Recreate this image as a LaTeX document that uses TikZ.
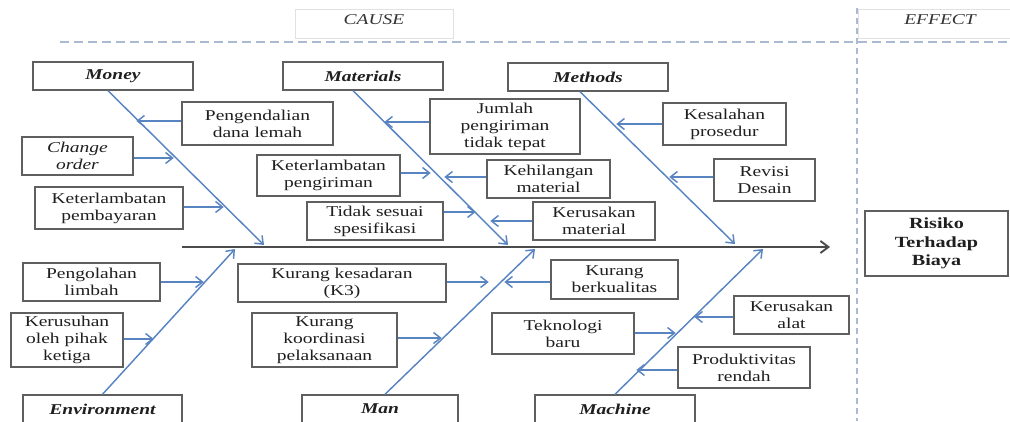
\documentclass[tikz,border=0pt]{standalone}
\usepackage{fontspec}
\setmainfont{Liberation Serif}[FakeStretch=1.3]
\usetikzlibrary{arrows.meta}
\definecolor{bonec}{RGB}{88,132,194}
\definecolor{boxc}{RGB}{95,95,95}
\definecolor{dashc}{RGB}{170,186,210}
\definecolor{spinec}{RGB}{75,75,75}
\definecolor{headc}{RGB}{225,225,225}
\begin{document}
\begin{tikzpicture}[x=1pt,y=-1pt,
  cbox/.style={draw=boxc,line width=1.4pt,inner sep=0pt,align=center,text=black!88,font=\fontsize{15}{17}\selectfont},
  cat/.style={cbox,font=\fontsize{15}{17}\selectfont\bfseries\itshape},
  hdr/.style={font=\fontsize{15}{17}\selectfont\itshape,text=black!80},
  bone/.style={draw=bonec,line width=1.45pt,-{Straight Barb[length=7pt,width=11pt]}},
  arr/.style={bone},
  spine/.style={draw=spinec,line width=1.9pt,-{Straight Barb[length=8pt,width=12pt]}},
  dashline/.style={draw=dashc,line width=1.7pt,dash pattern=on 9pt off 5pt}]
\useasboundingbox[fill=white] (0,0) rectangle (1010,421);
\clip (0,0) rectangle (1010,421);

% headers
\node[draw=headc,line width=0.8pt,minimum width=158,minimum height=29,inner sep=0pt] (cause) at (374,23.5) {};
\node[hdr] (causet) at (374,20) {CAUSE};
\node[draw=headc,line width=0.8pt,minimum width=160,minimum height=29,inner sep=0pt] (effect) at (938,23.5) {};
\node[hdr] (effectt) at (940,20) {EFFECT};
\coordinate (h0) at (60,42);
\coordinate (h1) at (1010,42);
\draw[dashline] (h0) -- (h1);
\coordinate (v0) at (857,8);
\coordinate (v1) at (857,421);
\draw[dashc,line width=1.5pt,dash pattern=on 6pt off 4pt] (v0) -- (v1);

% effect
\node[cbox,minimum width=143,minimum height=65,font=\fontsize{15.5}{18.5}\selectfont\bfseries] (risk) at (936.5,243.5) {Risiko\\Terhadap\\Biaya};

% spine
\coordinate (sp0) at (182,247);
\coordinate (sp1) at (830,247);
\draw[spine] (sp0) -- (sp1);

% categories
\node[cat,minimum width=160,minimum height=28] (money) at (113,76) {Money};
\node[cat,minimum width=160,minimum height=28] (mater) at (363,76) {Materials};
\node[cat,minimum width=160,minimum height=28] (meth) at (588,77) {Methods};
\node[cat,minimum width=159,minimum height=28] (env) at (102.5,409) {Environment};
\node[cat,minimum width=156,minimum height=28] (man) at (380,409) {Man};
\node[cat,minimum width=160,minimum height=28] (mach) at (615,409) {Machine};

% bones
\coordinate (tmoney) at (264,245);
\coordinate (tmater) at (508,245);
\coordinate (tmeth) at (735,244);
\coordinate (tenv) at (235,249);
\coordinate (tman) at (535,249);
\coordinate (tmach) at (763,249);
\draw[bone] ([xshift=-5pt]money.south) -- (tmoney);
\draw[bone] ([xshift=-10pt]mater.south) -- (tmater);
\draw[bone] ([xshift=-8pt]meth.south) -- (tmeth);
\draw[bone] (env.north) -- (tenv);
\draw[bone] ([xshift=5pt]man.north) -- (tman);
\draw[bone] (mach.north) -- (tmach);

% Money causes
\node[cbox,minimum width=151,minimum height=43] (pd) at (257.5,123.5) {Pengendalian\\dana lemah};
\node[cbox,minimum width=111,minimum height=38,font=\fontsize{15}{17}\selectfont\itshape] (co) at (77.5,156) {Change\\order};
\node[cbox,minimum width=148,minimum height=42] (kp) at (109,208) {Keterlambatan\\pembayaran};
\draw[arr] ([yshift=2.5pt]pd.west) -- ++(-45,0);
\draw[arr] ([yshift=-2pt]co.east) -- ++(40,0);
\draw[arr] ([yshift=1pt]kp.east) -- ++(40,0);

% Materials causes
\node[cbox,minimum width=150,minimum height=55] (jm) at (505,126.5) {Jumlah\\pengiriman\\tidak tepat};
\node[cbox,minimum width=143,minimum height=41] (kpg) at (328.5,175.5) {Keterlambatan\\pengiriman};
\node[cbox,minimum width=123,minimum height=38] (kh) at (548.5,179) {Kehilangan\\material};
\node[cbox,minimum width=136,minimum height=38] (ts) at (375,221) {Tidak sesuai\\spesifikasi};
\node[cbox,minimum width=122,minimum height=38] (km) at (594,221) {Kerusakan\\material};
\draw[arr] ([yshift=4.5pt]jm.west) -- ++(-45,0);
\draw[arr] ([yshift=2.5pt]kpg.east) -- ++(30,0);
\draw[arr] ([yshift=2pt]kh.west) -- ++(-42,0);
\draw[arr] ([yshift=9pt]ts.east) -- ++(32,0);
\draw[arr] (km.west) -- ++(-42,0);

% Methods causes
\node[cbox,minimum width=123,minimum height=42] (ks) at (724.5,124) {Kesalahan\\prosedur};
\node[cbox,minimum width=101,minimum height=42] (rd) at (764.5,180) {Revisi\\Desain};
\draw[arr] (ks.west) -- ++(-46,0);
\draw[arr] ([yshift=3pt]rd.west) -- ++(-44,0);

% Environment causes
\node[cbox,minimum width=137,minimum height=38] (pl) at (91.5,282) {Pengolahan\\limbah};
\node[cbox,minimum width=112,minimum height=54] (kr) at (67,340) {Kerusuhan\\oleh pihak\\ketiga};
\draw[arr] (pl.east) -- ++(43,0);
\draw[arr] ([yshift=1pt]kr.east) -- ++(30,0);

% Man causes
\node[cbox,minimum width=208,minimum height=38] (kk) at (342,283) {Kurang kesadaran\\(K3)};
\node[cbox,minimum width=145,minimum height=54] (kko) at (324.5,340) {Kurang\\koordinasi\\pelaksanaan};
\draw[arr] ([yshift=1pt]kk.east) -- ++(42,0);
\draw[arr] ([yshift=2pt]kko.east) -- ++(44,0);

% Machine causes
\node[cbox,minimum width=127,minimum height=39] (kb) at (614.5,279.5) {Kurang\\berkualitas};
\node[cbox,minimum width=142,minimum height=41] (tb) at (563,333.5) {Teknologi\\baru};
\node[cbox,minimum width=115,minimum height=38] (ka) at (791.5,315) {Kerusakan\\alat};
\node[cbox,minimum width=132,minimum height=41] (pr) at (744,367.5) {Produktivitas\\rendah};
\draw[arr] ([yshift=-2.5pt]kb.west) -- ++(-46,0);
\draw[arr] ([yshift=0.5pt]tb.east) -- ++(41,0);
\draw[arr] ([yshift=-2pt]ka.west) -- ++(-39,0);
\draw[arr] ([yshift=-2.5pt]pr.west) -- ++(-41,0);
\end{tikzpicture}
\end{document}
